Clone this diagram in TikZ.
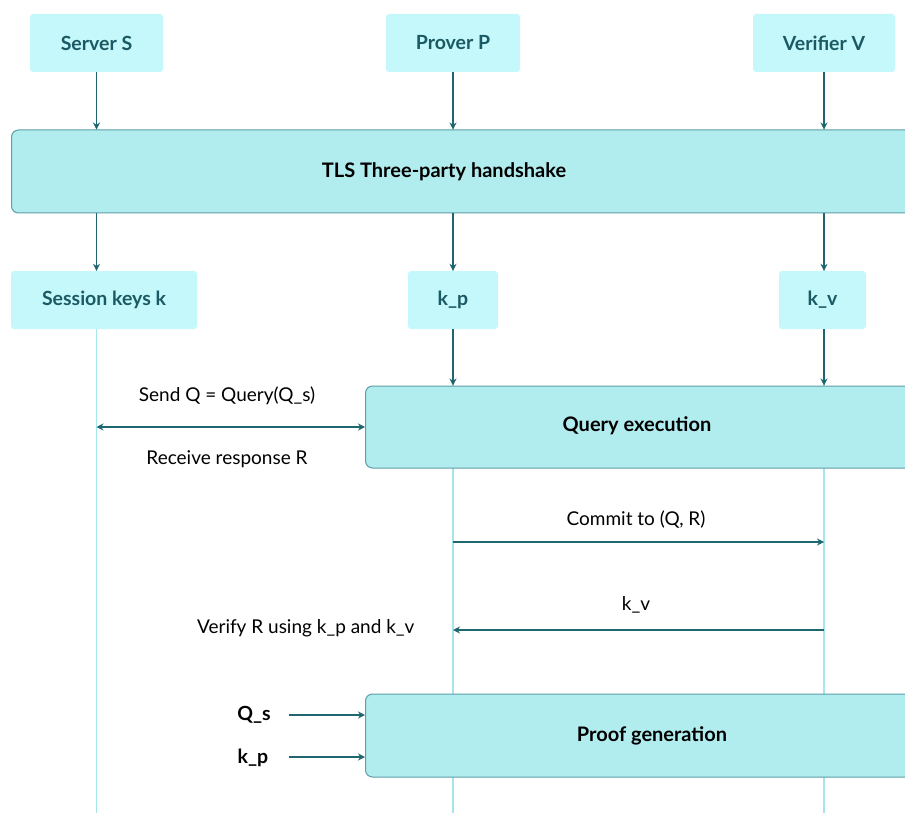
\documentclass[tikz,border=0pt]{standalone}
\usepackage{fontspec}
\setmainfont{Lato}
\usetikzlibrary{arrows.meta,backgrounds}
\definecolor{headfill}{HTML}{C4F8FA}
\definecolor{phasefill}{HTML}{B1ECEE}
\definecolor{phaseline}{HTML}{5E9EA6}
\definecolor{headtext}{HTML}{1B5A64}
\definecolor{arrowcol}{HTML}{1E6670}
\definecolor{lifecol}{HTML}{A6E6EA}
\tikzset{
  headbox/.style={fill=headfill, draw=none, rounded corners=3pt, minimum height=58pt,
    inner sep=0pt, font=\fontsize{19.5}{23}\selectfont\bfseries, text=headtext},
  phasebox/.style={fill=phasefill, draw=phaseline, line width=1pt, rounded corners=7pt,
    inner sep=0pt},
  phaselabel/.style={font=\fontsize{20}{24}\selectfont\bfseries, text=black},
  msg/.style={font=\fontsize{19}{23}\selectfont, text=black},
  inlabel/.style={font=\fontsize{19.5}{23}\selectfont\bfseries, text=black},
  arr/.style={draw=arrowcol, line width=1.4pt, -{Stealth[length=7pt,width=7pt]}},
  darr/.style={draw=arrowcol, line width=1.4pt, {Stealth[length=7pt,width=7pt]}-{Stealth[length=7pt,width=7pt]}},
  lifeline/.style={draw=lifecol, line width=1.4pt}
}
\begin{document}
\begin{tikzpicture}[x=1pt,y=-1pt]
\useasboundingbox (0,0) rectangle (905,813);

% participants
\node[headbox, minimum width=133pt] (srv) at (96.5,43) {Server S};
\node[headbox, minimum width=134pt] (prv) at (453,43) {Prover P};
\node[headbox, minimum width=142pt] (ver) at (824,43) {Verifier V};

% handshake phase
\node[phasebox, minimum width=920pt, minimum height=83pt, anchor=west] (tls) at (11,171.5) {};
\node[phaselabel] (tlst) at (444,171.5) {TLS Three-party handshake};

% derived keys
\node[headbox, minimum width=186pt] (sk) at (104,300) {Session keys k};
\node[headbox, minimum width=90pt] (kp) at (453,300) {k\_p};
\node[headbox, minimum width=87pt] (kv) at (822.5,300) {k\_v};

% query phase
\node[phasebox, minimum width=560pt, minimum height=82pt, anchor=west] (qe) at (365,427) {};
\node[phaselabel] (qet) at (637,426) {Query execution};

% proof phase
\node[phasebox, minimum width=580pt, minimum height=83pt, anchor=west] (pg) at (365,735.5) {};
\node[phaselabel] (pgt) at (652,736) {Proof generation};

% lifelines
\begin{pgfonlayer}{background}
  \coordinate (bot) at (0,813);
  \draw[lifeline] (srv.south) -- (srv.south |- bot);
  \draw[lifeline] (prv.south) -- (prv.south |- bot);
  \draw[lifeline] (ver.south) -- (ver.south |- bot);
\end{pgfonlayer}

% into the handshake
\draw[arr] (srv.south) -- (srv.south |- tls.north);
\draw[arr] (prv.south) -- (prv.south |- tls.north);
\draw[arr] (ver.south) -- (ver.south |- tls.north);

% out of the handshake
\draw[arr] (srv.south |- tls.south) -- (srv.south |- sk.north);
\draw[arr] (prv.south |- tls.south) -- (prv.south |- kp.north);
\draw[arr] (ver.south |- tls.south) -- (ver.south |- kv.north);

% keys into query execution
\draw[arr] (prv.south |- kp.south) -- (prv.south |- qe.north);
\draw[arr] (ver.south |- kv.south) -- (ver.south |- qe.north);

% query exchange with the server
\draw[darr] (srv.south |- qe.west) -- (qe.west);
\node[msg] (sendq) at (227,396) {Send Q = Query(Q\_s)};
\node[msg] (recvr) at (227,459) {Receive response R};

% commitment
\coordinate (cm) at (0,542);
\draw[arr] (prv.south |- cm) -- (ver.south |- cm);
\node[msg] (cmt) at (636,520) {Commit to (Q, R)};

% verifier key share
\coordinate (kvy) at (0,630);
\draw[arr] (ver.south |- kvy) -- (prv.south |- kvy);
\node[msg] (kvt) at (636,605) {k\_v};
\node[msg, anchor=east] (vrf) at (418,628) {Verify R using k\_p and k\_v};

% proof inputs
\node[inlabel] (qs) at (254,715) {Q\_s};
\node[inlabel] (kpin) at (253,758) {k\_p};
\coordinate (qsa) at (289,715);
\coordinate (kpa) at (289,757);
\draw[arr] (qsa) -- (pg.west |- qsa);
\draw[arr] (kpa) -- (pg.west |- kpa);
\end{tikzpicture}
\end{document}
